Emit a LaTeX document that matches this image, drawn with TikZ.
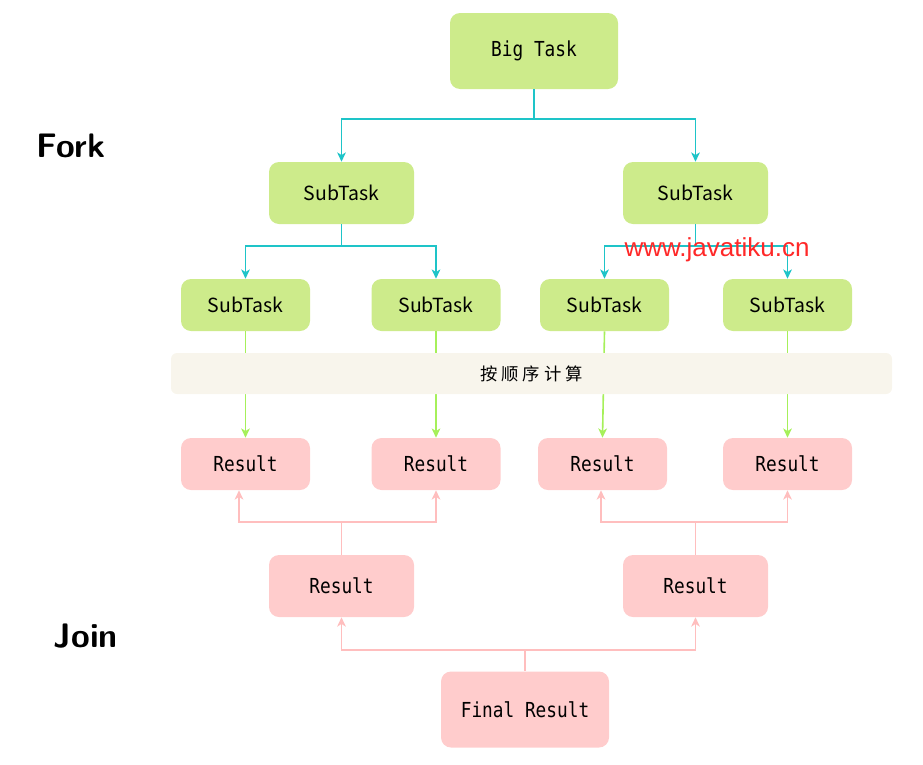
\documentclass[tikz,border=0pt]{standalone}
\usepackage{fontspec}
\usetikzlibrary{arrows.meta,calc}
\newfontfamily\monof[FakeStretch=0.86]{DejaVu Sans Mono}
\newfontfamily\cjkf{Noto Sans CJK SC}
\newfontfamily\wmf{Liberation Sans}
\setsansfont{Latin Modern Sans}
\def\px{*0.75pt}
\definecolor{boxgreen}{RGB}{205,235,139}
\definecolor{boxpink}{RGB}{255,204,204}
\definecolor{bandc}{RGB}{248,245,236}
\definecolor{cyanl}{RGB}{30,196,200}
\definecolor{greenl}{RGB}{166,240,90}
\definecolor{pinkl}{RGB}{255,190,190}
\definecolor{wmred}{RGB}{255,40,40}
\tikzset{
  gbox/.style={fill=boxgreen, draw=none, rounded corners=7.5pt, inner sep=0pt},
  pbox/.style={fill=boxpink, draw=none, rounded corners=7.5pt, inner sep=0pt},
  big/.style={minimum width=168\px, minimum height=76\px},
  mid/.style={minimum width=145\px, minimum height=62\px},
  small/.style={minimum width=129\px, minimum height=52\px},
  monotxt/.style={font=\monof\fontsize{15.5pt}{18pt}\selectfont},
  subtxt/.style={font=\cjkf\fontsize{14.6pt}{17pt}\selectfont},
  cyline/.style={draw=cyanl, line width=1.2pt},
  grline/.style={draw=greenl, line width=1.2pt},
  pkline/.style={draw=pinkl, line width=1.2pt},
  tip/.style={-{Stealth[length=7pt,width=6.5pt,inset=2pt]}},
  bigword/.style={font=\sffamily\bfseries\fontsize{25.5pt}{29pt}\selectfont}
}
\begin{document}
\begin{tikzpicture}[x=0.75pt,y=-0.75pt]
\useasboundingbox (0,0) rectangle (923,764);
% boxes
\node[gbox,big,monotxt] (bigt) at (534,51) {Big Task};
\node[gbox,mid,subtxt] (s1L) at (341.5,193) {SubTask};
\node[gbox,mid,subtxt] (s1R) at (695.5,193) {SubTask};
\node[gbox,small,subtxt] (s2a) at (245.5,305) {SubTask};
\node[gbox,small,subtxt] (s2b) at (436,305) {SubTask};
\node[gbox,small,subtxt] (s2c) at (604.5,305) {SubTask};
\node[gbox,small,subtxt] (s2d) at (787.5,305) {SubTask};
\node[pbox,small,monotxt] (r1a) at (245.5,464) {Result};
\node[pbox,small,monotxt] (r1b) at (436,464) {Result};
\node[pbox,small,monotxt] (r1c) at (602.5,464) {Result};
\node[pbox,small,monotxt] (r1d) at (787.5,464) {Result};
\node[pbox,mid,monotxt] (r2L) at (341.5,586) {Result};
\node[pbox,mid,monotxt] (r2R) at (695.5,586) {Result};
\node[pbox,big,monotxt] (fin) at (525,709.5) {Final Result};
% fork connectors
\coordinate (j0) at (534,119);
\coordinate (j1) at (341.5,246);
\coordinate (j2) at (695.5,246);
\draw[cyline] (bigt.south) -- (j0);
\draw[cyline,tip] (j0) -| (s1L.north);
\draw[cyline,tip] (j0) -| (s1R.north);
\draw[cyline] (s1L.south) -- (j1);
\draw[cyline,tip] (j1) -| (s2a.north);
\draw[cyline,tip] (j1) -| (s2b.north);
\draw[cyline] (s1R.south) -- (j2);
\draw[cyline,tip] (j2) -| (s2c.north);
\draw[cyline,tip] (j2) -| (s2d.north);
% compute lines
\draw[grline,tip] (s2a.south) -- (r1a.north);
\draw[grline,tip] (s2b.south) -- (r1b.north);
\draw[grline,tip] (s2c.south) -- (r1c.north);
\draw[grline,tip] (s2d.south) -- (r1d.north);
% band
\node[fill=bandc, draw=none, rounded corners=4.5pt, minimum width=721\px, minimum height=41\px, inner sep=0pt,
  font=\cjkf\fontsize{13pt}{15pt}\selectfont] (band) at (531.5,373.5)
  {按\kern3pt 顺\kern3pt 序\kern3pt 计\kern3pt 算};
% join connectors
\coordinate (k1) at (341.5,522);
\coordinate (k2) at (695.5,522);
\coordinate (k3) at (525,650);
\draw[pkline] (r2L.north) -- (k1);
\draw[pkline,tip] (k1) -| ([xshift=-6.5\px]r1a.south);
\draw[pkline,tip] (k1) -| (r1b.south);
\draw[pkline] (r2R.north) -- (k2);
\draw[pkline,tip] (k2) -| ([xshift=-1.5\px]r1c.south);
\draw[pkline,tip] (k2) -| (r1d.south);
\draw[pkline] (fin.north) -- (k3);
\draw[pkline,tip] (k3) -| (r2L.south);
\draw[pkline,tip] (k3) -| (r2R.south);
% labels
\node[bigword] (fork) at (71,146) {Fork};
\node[bigword] (join) at (86,636) {Join};
\node[font=\wmf\fontsize{19.5pt}{22pt}\selectfont, text=wmred] (wm) at (717,250) {www.javatiku.cn};
\end{tikzpicture}
\end{document}
